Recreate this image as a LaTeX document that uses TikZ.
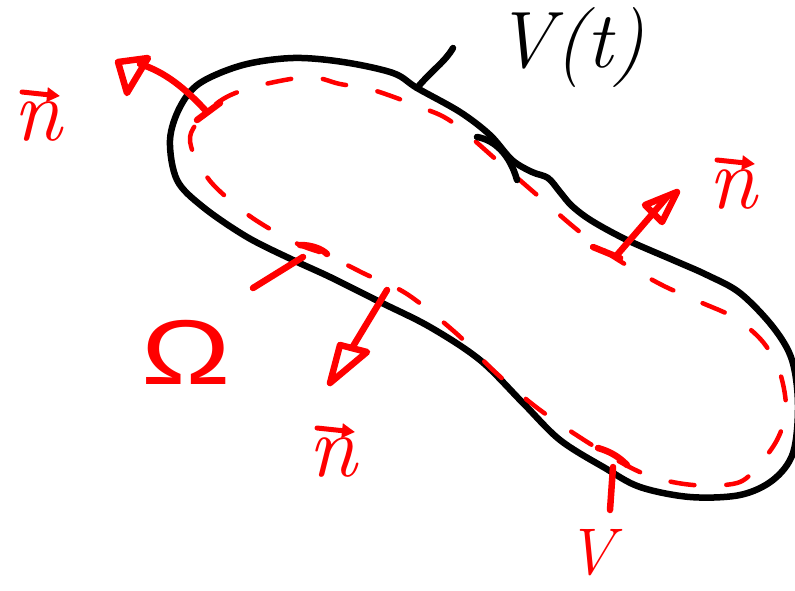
\documentclass[tikz,border=0pt]{standalone}
\usepackage{fontspec}
\newfontfamily\greekfont{Liberation Sans}
\usetikzlibrary{arrows.meta}
\begin{document}
\begin{tikzpicture}[x=1pt,y=-1pt,line cap=round,line join=round]
\tikzset{
  redpen/.style={draw=red,line width=6.5pt,line cap=round,line join=round},
  blackpen/.style={draw=black,line width=6.5pt,line cap=round,line join=round},
  vecpen/.style={draw=red,line width=5pt,-{Triangle[length=13pt,width=14pt]}},
  redlabel/.style={text=red,inner sep=0pt},
  blacklabel/.style={text=black,inner sep=0pt}
}
\useasboundingbox (0,0) rectangle (795,590);
\fill[white] (0,0) rectangle (795,590);
\begin{scope}
\clip (0,0) rectangle (795,590);
% outer boundary V(t)
\draw[blackpen] plot[smooth cycle,tension=0.55] coordinates {
 (170,140) (180,107) (200,83) (243,65) (293,58) (343,62) (393,73) (417,88)
 (460,112) (490,135) (512,160) (532,172) (548,178) (560,192) (572,206) (592,221)
 (627,240) (673,260) (707,275) (740,293) (773,327) (792,360) (798,405)
 (793,453) (773,480) (740,495) (690,497) (640,487) (605,468) (560,440)
 (523,403) (480,360) (430,327) (380,302) (330,277) (293,260) (247,237)
 (203,207) (177,180)};
% inner dashed surface
\draw[redpen,line width=4.5pt,dash pattern=on 24pt off 32pt] plot[smooth cycle,tension=0.55] coordinates {
 (190,137) (216,104) (250,88) (307,77) (340,84) (373,90) (420,107)
 (452,122) (500,163) (537,195) (575,228) (612,256) (660,284) (700,302)
 (735,318) (763,342) (780,373) (786,410) (777,440) (757,467) (737,483)
 (693,485) (647,475) (600,450) (540,410) (495,372) (457,334) (407,294)
 (365,274) (327,255) (300,245) (265,226) (238,207) (207,177)};
\end{scope}
% extra stroke near the notch
\draw[blackpen] (477,137) .. controls (495,140) and (510,155) .. (517,180);
% leader to V(t)
\coordinate (vtfoot) at (417,88);
\coordinate (vttop) at (453,48);
\draw[blackpen] (vtfoot) .. controls (432,70) and (445,62) .. (vttop);
\node[blacklabel,font=\fontsize{80}{86}\selectfont\itshape] (vt) at (570,48) {V(t)};

% normal top-left
\coordinate (a1base) at (207,112);
\coordinate (a1tip) at (140,64);
\draw[redpen] (a1base) .. controls (185,88) and (165,72) .. (a1tip);
\draw[redpen] (197,120) -- (220,103);
\draw[redpen] (118,62) -- (148,58) -- (127,93) -- cycle;
\node[redlabel,font=\fontsize{88}{92}\selectfont\itshape] (n1) at (38,122) {n};
\draw[vecpen] ([xshift=-16pt,yshift=30pt]n1.center) -- ([xshift=22pt,yshift=26pt]n1.center);

% normal right
\coordinate (a2base) at (617,255);
\coordinate (a2tip) at (667,197);
\draw[redpen] (593,247) -- (620,258);
\draw[redpen] (a2base) -- (a2tip);
\draw[redpen] (645,205) -- (677,192) -- (662,222) -- cycle;
\node[redlabel,font=\fontsize{88}{92}\selectfont\itshape] (n2) at (733,190) {n};
\draw[vecpen] ([xshift=-16pt,yshift=30pt]n2.center) -- ([xshift=22pt,yshift=26pt]n2.center);

% normal bottom
\coordinate (a3base) at (387,290);
\coordinate (a3tip) at (352,348);
\draw[redpen] (a3base) -- (a3tip);
\draw[redpen] (340,345) -- (367,352) -- (330,383) -- cycle;
\node[redlabel,font=\fontsize{88}{92}\selectfont\itshape] (n3) at (333,458) {n};
\draw[vecpen] ([xshift=-16pt,yshift=30pt]n3.center) -- ([xshift=22pt,yshift=26pt]n3.center);

% Omega leader and label
\coordinate (omfoot) at (253,288);
\coordinate (omtop) at (303,257);
\draw[redpen] (omfoot) -- (omtop);
\draw[redpen] (300,245) .. controls (312,245) and (322,249) .. (327,254);
\node[redlabel,font=\fontsize{92}{96}\selectfont\greekfont,xscale=1.3] (om) at (186,352) {Ω};

% V leader and label
\coordinate (vfoot) at (610,510);
\coordinate (vtop2) at (613,467);
\draw[redpen] (vfoot) -- (vtop2);
\draw[redpen] (598,448) .. controls (612,452) and (620,458) .. (627,465);
\node[redlabel,font=\fontsize{66}{70}\selectfont\itshape] (vbot) at (590,553) {V};
\end{tikzpicture}
\end{document}
